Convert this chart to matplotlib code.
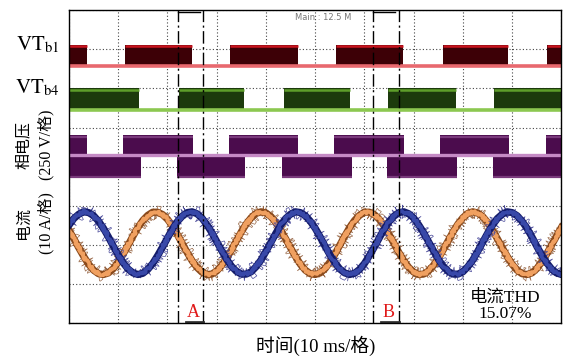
import numpy as np
import matplotlib.pyplot as plt

plt.rcParams['font.family'] = ['Liberation Serif', 'Noto Sans CJK SC']
plt.rcParams['mathtext.fontset'] = 'stix'

# time axis: 10 ms per division, 10 divisions
t = np.arange(0, 101)

# phase currents (divisions, sampled every 1 ms)
i_blue = [2.51, 2.68, 2.79, 2.85, 2.83, 2.75, 2.61, 2.43, 2.21, 1.97,
          1.75, 1.55, 1.39, 1.29, 1.25, 1.28, 1.38, 1.53, 1.73, 1.95,
          2.18, 2.41, 2.60, 2.74, 2.83, 2.85, 2.80, 2.69, 2.52, 2.32,
          2.09, 1.86, 1.64, 1.46, 1.33, 1.26, 1.26, 1.32, 1.45, 1.62,
          1.84, 2.07, 2.30, 2.51, 2.68, 2.79, 2.85, 2.83, 2.75, 2.61,
          2.43, 2.21, 1.97, 1.75, 1.55, 1.39, 1.29, 1.25, 1.28, 1.38,
          1.53, 1.73, 1.95, 2.18, 2.41, 2.60, 2.74, 2.83, 2.85, 2.80,
          2.69, 2.52, 2.32, 2.09, 1.86, 1.64, 1.46, 1.33, 1.26, 1.26,
          1.32, 1.45, 1.62, 1.84, 2.07, 2.30, 2.51, 2.68, 2.79, 2.85,
          2.83, 2.75, 2.61, 2.43, 2.21, 1.97, 1.75, 1.55, 1.39, 1.29,
          1.25]
i_orange = [2.38, 2.16, 1.93, 1.71, 1.51, 1.36, 1.27, 1.25, 1.29, 1.40,
            1.57, 1.77, 2.00, 2.23, 2.45, 2.63, 2.76, 2.84, 2.84, 2.78,
            2.66, 2.49, 2.27, 2.04, 1.81, 1.60, 1.43, 1.31, 1.25, 1.26,
            1.34, 1.48, 1.66, 1.88, 2.11, 2.34, 2.54, 2.70, 2.81, 2.85,
            2.82, 2.73, 2.58, 2.38, 2.16, 1.93, 1.71, 1.51, 1.36, 1.27,
            1.25, 1.29, 1.40, 1.57, 1.77, 2.00, 2.23, 2.45, 2.63, 2.76,
            2.84, 2.84, 2.78, 2.66, 2.49, 2.27, 2.04, 1.81, 1.60, 1.43,
            1.31, 1.25, 1.26, 1.34, 1.48, 1.66, 1.88, 2.11, 2.34, 2.54,
            2.70, 2.81, 2.85, 2.82, 2.73, 2.58, 2.38, 2.16, 1.93, 1.71,
            1.51, 1.36, 1.27, 1.25, 1.29, 1.40, 1.57, 1.77, 2.00, 2.23,
            2.45]

# gate signal on-intervals (ms)
vtb1_on = [(0, 3.6), (11.4, 24.9), (32.7, 46.5), (54.2, 67.8), (75.9, 89.1), (97.1, 100)]
vtb4_on = [(0, 14.2), (22.3, 35.5), (43.7, 57.1), (64.8, 78.6), (86.3, 100)]
# phase voltage: positive and negative level intervals (ms)
phase_pos = [(0, 3.6), (11.0, 25.2), (32.5, 46.5), (53.8, 68.0), (75.3, 89.3), (96.9, 100)]
phase_neg = [(0, 14.6), (21.9, 35.7), (43.2, 57.5), (64.6, 78.8), (86.1, 100)]

# cursor pairs
cursor_a = [22.2, 27.2]
cursor_b = [61.8, 67.0]
thd_text = '电流THD\n15.07%'

fig = plt.figure(figsize=(5.66, 3.58), dpi=100)
ax = fig.add_axes([0.1219, 0.0964, 0.870, 0.8757])
ax.set_xlim(0, 100)
ax.set_ylim(0, 8)


def pulses(intervals, base, high, fill, edge, base_col):
    for t0, t1 in intervals:
        ax.fill_between([t0, t1], base, high, color=fill, lw=0, zorder=3)
        ax.plot([t0, t1], [high - 0.04, high - 0.04], color=edge, lw=1.8, zorder=4,
                solid_capstyle='butt')
    ax.plot([0, 100], [base, base], color=base_col, lw=2.6, zorder=5, solid_capstyle='butt')


pulses(vtb1_on, 6.57, 7.11, '#3d0006', '#c8141e', '#e8686e')
pulses(vtb4_on, 5.45, 6.01, '#1c3a0c', '#5e9e2a', '#8cc850')

# three-level phase voltage
for t0, t1 in phase_pos:
    ax.fill_between([t0, t1], 4.29, 4.80, color='#4b0c4d', lw=0, zorder=3)
    ax.plot([t0, t1], [4.76, 4.76], color='#7a3a7c', lw=1.6, zorder=4, solid_capstyle='butt')
for t0, t1 in phase_neg:
    ax.fill_between([t0, t1], 3.70, 4.29, color='#4b0c4d', lw=0, zorder=3)
    ax.plot([t0, t1], [3.74, 3.74], color='#7a3a7c', lw=1.6, zorder=4, solid_capstyle='butt')
ax.plot([0, 100], [4.29, 4.29], color='#c58ac5', lw=2.4, zorder=5, solid_capstyle='butt')

# noisy current traces: jittered fringe under a solid band
for k, (y, fringe, dark, light) in enumerate([(i_orange, '#9a6a4a', '#8a4a1c', '#f0a060'),
                                              (i_blue, '#4a4a9a', '#141c6a', '#3848a8')]):
    z = 6 + 3 * k
    fz, = ax.plot(t, y, color=fringe, lw=0.5, zorder=z)
    fz.set_sketch_params(scale=7, length=0.5, randomness=3)
    ax.plot(t, y, color=dark, lw=5.2, zorder=z + 1)
    core, = ax.plot(t, y, color=light, lw=2.6, zorder=z + 2)
    core.set_sketch_params(scale=1.2, length=0.8, randomness=3)

# dash-dot cursors
for pair, lab in [(cursor_a, 'A'), (cursor_b, 'B')]:
    ax.vlines(pair, 0, 8, colors='k', lw=1.0, linestyles=[(0, (9, 2.5, 1.5, 2.5))], zorder=12)
    ax.plot([pair[0], pair[0] + 4.4], [7.96, 7.96], color='k', lw=1.0, zorder=12)
    ax.plot([pair[0] + 1.6, pair[1]], [0.03, 0.03], color='#333333', lw=2.0, zorder=12)
    ax.text(sum(pair) / 2 + 0.5, 0.28, lab, color='#e01818', fontsize=13,
            ha='center', va='center', zorder=13)

ax.text(88.5, 0.45, thd_text, fontsize=12.5, ha='center', va='center',
        linespacing=1.05, zorder=13)
ax.text(45.8, 7.8, 'Main : 12.5 M', fontsize=6, color='#777777',
        family='DejaVu Sans', ha='left', va='center', zorder=13)

# graticule
ax.set_xticks(np.arange(0, 101, 10))
ax.set_yticks(np.arange(0, 9, 1))
ax.grid(True, color='#444444', lw=0.8, linestyle=(0, (1, 2)))
ax.tick_params(length=0, labelbottom=False, labelleft=False)
for s in ax.spines.values():
    s.set_linewidth(1.0)
    s.set_zorder(14)

# channel labels
fig.text(0.1040, 1 - 45 / 358, r'$\mathrm{VT}_{\mathrm{b1}}$', fontsize=15,
         ha='right', va='center')
fig.text(0.1040, 1 - 88 / 358, r'$\mathrm{VT}_{\mathrm{b4}}$', fontsize=15,
         ha='right', va='center')
fig.text(35 / 566, 1 - 145 / 358, '相电压\n(250 V/格)', fontsize=11.5, rotation=90,
         ha='center', va='center', multialignment='center', linespacing=1.45)
fig.text(35 / 566, 1 - 223 / 358, '电流\n(10 A/格)', fontsize=11.5, rotation=90,
         ha='center', va='center', multialignment='center', linespacing=1.45)
fig.text(316 / 566, 1 - 346 / 358, '时间(10 ms/格)', fontsize=13.5,
         ha='center', va='center')

fig.savefig('out.png', dpi=100)
